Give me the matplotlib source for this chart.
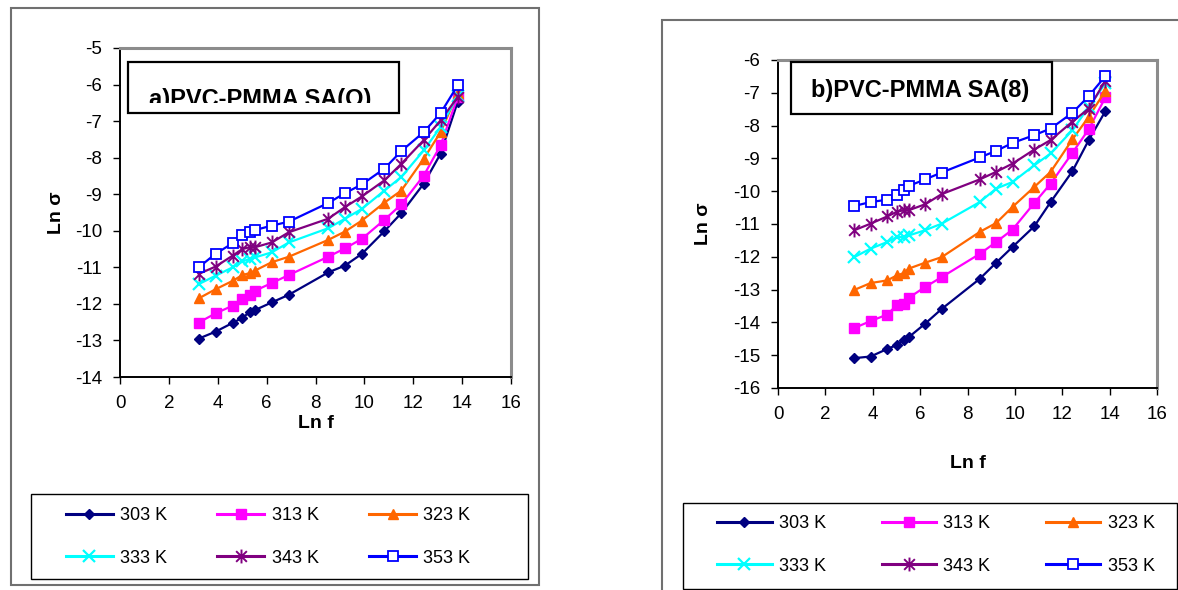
import matplotlib
matplotlib.use('Agg')
import matplotlib.pyplot as plt
from matplotlib.patches import Rectangle
from matplotlib.path import Path
from matplotlib.lines import Line2D

plt.rcParams['font.family'] = ['Liberation Sans', 'DejaVu Sans']
plt.rcParams['axes.unicode_minus'] = False

W, H = 1178, 590

# ln f values shared by every series
lnf = [3.22, 3.91, 4.61, 5.01, 5.30, 5.52, 6.21, 6.91, 8.52, 9.21, 9.90, 10.82, 11.51, 12.43, 13.12, 13.82]

labels = ['303 K', '313 K', '323 K', '333 K', '343 K', '353 K']

# panel a) PVC-PMMA SA(O)
a303 = [-12.95, -12.76, -12.52, -12.38, -12.23, -12.17, -11.96, -11.75, -11.14, -10.95, -10.63, -10.01, -9.52, -8.71, -7.89, -6.47]
a313 = [-12.51, -12.26, -12.05, -11.87, -11.75, -11.64, -11.43, -11.21, -10.71, -10.48, -10.22, -9.70, -9.28, -8.49, -7.66, -6.34]
a323 = [-11.85, -11.60, -11.37, -11.21, -11.16, -11.09, -10.86, -10.71, -10.25, -10.02, -9.72, -9.23, -8.90, -8.03, -7.30, -6.24]
a333 = [-11.46, -11.23, -11.00, -10.84, -10.77, -10.73, -10.59, -10.32, -9.93, -9.67, -9.40, -8.90, -8.53, -7.80, -7.16, -6.30]
a343 = [-11.18, -10.98, -10.68, -10.50, -10.45, -10.45, -10.32, -10.04, -9.67, -9.35, -9.06, -8.62, -8.17, -7.52, -6.98, -6.34]
a353 = [-11.00, -10.63, -10.34, -10.11, -10.02, -9.98, -9.86, -9.75, -9.24, -8.97, -8.73, -8.30, -7.82, -7.30, -6.78, -6.02]

# panel b) PVC-PMMA SA(8)
b303 = [-15.09, -15.04, -14.81, -14.69, -14.53, -14.45, -14.04, -13.59, -12.67, -12.18, -11.70, -11.07, -10.33, -9.39, -8.44, -7.56]
b313 = [-14.17, -13.96, -13.76, -13.48, -13.43, -13.25, -12.92, -12.62, -11.91, -11.55, -11.17, -10.36, -9.77, -8.83, -8.11, -7.14]
b323 = [-13.01, -12.80, -12.72, -12.57, -12.50, -12.36, -12.18, -12.01, -11.24, -10.97, -10.48, -9.87, -9.41, -8.42, -7.73, -6.94]
b333 = [-12.01, -11.75, -11.55, -11.40, -11.40, -11.35, -11.19, -10.99, -10.33, -9.92, -9.72, -9.21, -8.85, -8.14, -7.43, -6.71]
b343 = [-11.19, -10.99, -10.77, -10.63, -10.58, -10.58, -10.40, -10.09, -9.64, -9.41, -9.16, -8.73, -8.44, -7.88, -7.48, -6.63]
b353 = [-10.45, -10.33, -10.26, -10.12, -9.95, -9.84, -9.64, -9.43, -8.97, -8.77, -8.53, -8.29, -8.09, -7.61, -7.10, -6.49]

# excel-like star: X plus vertical bar
star = Path([(-1, -1), (1, 1), (-1, 1), (1, -1), (0, -1.3), (0, 1.3)],
            [Path.MOVETO, Path.LINETO, Path.MOVETO, Path.LINETO, Path.MOVETO, Path.LINETO])

styles = [
    dict(color='#000080', marker='D', ms=5.5, mfc='#000080', mec='#000080'),
    dict(color='#FF00FF', marker='s', ms=7, mfc='#FF00FF', mec='#FF00FF'),
    dict(color='#FF6600', marker='^', ms=7, mfc='#FF6600', mec='#FF6600'),
    dict(color='#00FFFF', marker='x', ms=8, mew=1.6),
    dict(color='#800080', marker=star, ms=10, mew=1.4),
    dict(color='#0000FF', marker='s', ms=6.5, mfc='white', mec='#0000FF', mew=1.3),
]


def rect(x0, y0, x1, y1):
    return [x0 / W, 1 - y1 / H, (x1 - x0) / W, (y1 - y0) / H]


fig = plt.figure(figsize=(W / 100, H / 100), dpi=100)

# outer chart frames
for x0, y0, x1, y1 in [(11, 8, 539, 585), (662, 20, 1185, 600)]:
    fig.patches.append(Rectangle((x0 / W, 1 - y1 / H), (x1 - x0) / W, (y1 - y0) / H,
                                 transform=fig.transFigure, fill=False,
                                 edgecolor='#707070', lw=1.5))


def panel(pos, series, ylim, title, tbox, ttext, xlab_y, ylab_x, legbox, legc, hlen, cspace):
    ax = fig.add_axes(rect(*pos))
    for ys, st, lab in zip(series, styles, labels):
        ax.plot(lnf, ys, lw=1.6, label=lab, clip_on=False, **st)
    ax.set_xlim(0, 16)
    ax.set_ylim(*ylim)
    ax.set_xticks(range(0, 17, 2))
    ax.set_yticks(range(ylim[0], ylim[1] + 1))
    ax.tick_params(direction='out', length=5, width=1, labelsize=13.5, pad=8)
    for s in ['left', 'bottom']:
        ax.spines[s].set_color('black')
        ax.spines[s].set_linewidth(1.4)
    for s in ['top', 'right']:
        ax.spines[s].set_color('#8c8c8c')
        ax.spines[s].set_linewidth(2.2)
    ax.set_xlabel('Ln f', fontsize=14, fontweight='bold')
    ax.set_ylabel('Ln σ', fontsize=14, fontweight='bold')
    ax.xaxis.set_label_coords(0.5, xlab_y)
    ax.yaxis.set_label_coords(ylab_x, 0.5)

    # title box
    bx0, by0, bx1, by1 = tbox
    box = Rectangle((bx0 / W, 1 - by1 / H), (bx1 - bx0) / W, (by1 - by0) / H,
                    transform=fig.transFigure, fill=True, facecolor='white',
                    edgecolor='black', lw=1.6, zorder=5)
    fig.patches.append(box)
    tx, ty, clip_y = ttext
    t = fig.text(tx / W, 1 - ty / H, title, fontsize=17, fontweight='bold',
                 ha='center', va='baseline', zorder=6)
    clip = Rectangle((bx0 / W, 1 - clip_y / H), (bx1 - bx0) / W, (clip_y - by0) / H,
                     transform=fig.transFigure, visible=False)
    fig.patches.append(clip)
    t.set_clip_path(clip)
    t.set_clip_on(True)

    # legend frame + entries (row-wise order like excel)
    lx0, ly0, lx1, ly1 = legbox
    fig.patches.append(Rectangle((lx0 / W, 1 - ly1 / H), (lx1 - lx0) / W, (ly1 - ly0) / H,
                                 transform=fig.transFigure, fill=False,
                                 edgecolor='black', lw=1.0))
    handles = [Line2D([], [], lw=2.2, **st) for st in styles]
    order = [0, 3, 1, 4, 2, 5]
    fig.legend([handles[i] for i in order], [labels[i] for i in order],
               loc='center', bbox_to_anchor=(legc[0] / W, 1 - legc[1] / H),
               ncol=3, frameon=False, fontsize=13, handlelength=hlen,
               handletextpad=0.4, columnspacing=cspace, labelspacing=1.4)
    return ax


panel((120, 48, 511, 377), [a303, a313, a323, a333, a343, a353], (-14, -5),
      'a)PVC-PMMA SA(O)', (128, 62, 399, 113), (260, 106, 103), -0.115, -0.14,
      (31, 494, 528, 579), (268, 537), 2.6, 2.8)

panel((778, 60, 1157, 388), [b303, b313, b323, b333, b343, b353], (-16, -6),
      'b)PVC-PMMA SA(8)', (791, 62, 1052, 114), (920, 97, 113), -0.205, -0.175,
      (683, 503, 1177, 589), (936, 545), 3.0, 3.1)

fig.savefig('out.png', dpi=100)
